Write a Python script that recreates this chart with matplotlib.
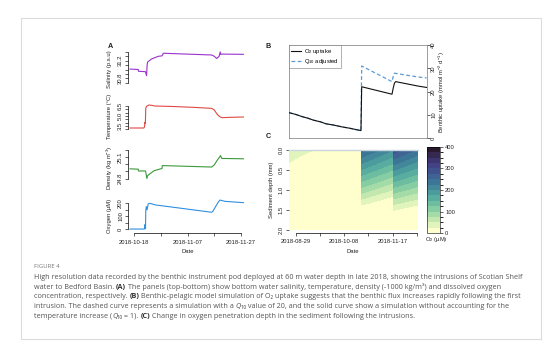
import numpy as np
import pandas as pd
import matplotlib
matplotlib.use("Agg")
import matplotlib.pyplot as plt
import matplotlib.dates as mdates
from matplotlib.colors import LinearSegmentedColormap, ListedColormap, BoundaryNorm
from matplotlib.patches import Rectangle
from matplotlib.lines import Line2D
from matplotlib.font_manager import FontProperties

# ---------------- data ----------------
A_BASE = "2018-10-18"   # day offsets in panel A are relative to this date
sal_days = [-1.6, 1.5, 1.55, 4.2, 4.4, 4.6, 4.8, 5.0, 6.5, 9.0, 10.4, 10.9, 15, 22, 29.0, 30.0, 30.9, 31.8, 32.2, 32.4, 32.8, 40.9]
sal_vals = [31.01, 31.00, 30.96, 30.95, 30.90, 30.86, 31.10, 31.17, 31.24, 31.30, 31.31, 31.37, 31.36, 31.345, 31.33, 31.30, 31.25, 31.30, 31.40, 31.34, 31.35, 31.345]

tmp_days = [-1.6, 3.6, 3.8, 4.0, 4.15, 4.3, 4.6, 5.5, 6.5, 7.75, 15, 22, 29.0, 30.0, 31.0, 32.0, 32.8, 36, 40.9]
tmp_vals = [3.2, 3.2, 3.35, 4.05, 3.9, 6.2, 6.45, 6.65, 6.6, 6.5, 6.42, 6.3, 6.15, 5.9, 5.3, 4.9, 4.75, 4.8, 4.85]

den_days = [-1.6, 1.5, 1.55, 4.2, 4.5, 4.7, 5.0, 6.0, 7.5, 10.4, 10.5, 20, 29.0, 30.0, 31.0, 32.0, 32.3, 32.8, 40.9]
den_vals = [24.935, 24.93, 24.905, 24.905, 24.85, 24.80, 24.84, 24.87, 24.91, 24.94, 24.98, 24.97, 24.96, 24.99, 25.05, 25.10, 25.12, 25.08, 25.075]

oxy_days = [-1.6, 3.75, 3.9, 4.05, 4.2, 4.3, 4.5, 4.8, 5.2, 5.9, 7.75, 29.0, 29.5, 30.5, 31.5, 32.1, 34, 40.9]
oxy_vals = [2, 2, 15, 38, 5, 140, 175, 150, 195, 200, 188, 131, 140, 175, 210, 225, 215, 205]

B_BASE = "2018-08-29"   # day offsets in panels B and C are relative to this date
up_days = [-5.8, 0, 5, 10, 14.3, 20, 25, 30.9, 38, 44.7, 50, 53.8, 54.4, 79.5, 80.5, 81.5, 82.5, 101, 108.2]
up_vals = [11.0, 10.2, 9.3, 8.6, 7.8, 7.1, 6.2, 5.7, 4.9, 4.3, 3.7, 3.3, 22.1, 18.9, 21.5, 23.6, 24.3, 22.4, 21.8]
q10_days = [-5.8, 0, 5, 10, 14.3, 20, 25, 30.9, 38, 44.7, 50, 53.8, 54.4, 79.5, 80.5, 81.5, 101, 108.2]
q10_vals = [11.0, 10.2, 9.3, 8.6, 7.8, 7.1, 6.2, 5.7, 4.9, 4.3, 3.7, 3.3, 31.0, 24.3, 26.5, 27.9, 26.3, 25.9]

c_days = [-6.2, 3.0, 14.0, 54.3, 54.5, 80.5, 80.6, 101.0]
c_depth = [0, 0.25, 0.5, 0.75, 1.0, 1.25, 1.5, 1.75, 2.0]
c_o2 = [  # one O2 profile (uM) per time in c_days, top to bottom
    [45, 30, 10, 0, 0, 0, 0, 0, 0],
    [36, 18, 2, 0, 0, 0, 0, 0, 0],
    [25.5, 8, 0, 0, 0, 0, 0, 0, 0],
    [15, 3, 0, 0, 0, 0, 0, 0, 0],
    [255, 213, 172, 130, 88, 46, 4, 0, 0],
    [200, 162, 124, 86, 48, 10, 0, 0, 0],
    [290, 246, 202, 158, 114, 70, 26, 0, 0],
    [245, 205, 165, 125, 86, 45, 4, 0, 0],
]
c_levels = list(range(0, 425, 25))

a_tick_dates = ["2018-10-18", "2018-10-28", "2018-11-07", "2018-11-17", "2018-11-27"]
a_tick_labels = ["2018-10-18", "", "2018-11-07", "", "2018-11-27"]
c_tick_dates = ["2018-08-29", "2018-09-18", "2018-10-08", "2018-10-28", "2018-11-17", "2018-12-07"]
c_tick_labels = ["2018-08-29", "", "2018-10-08", "", "2018-11-17", ""]

# caption: each line is a list of (text, style) with style n=normal, b=bold, i=italic
caption_segments = [
    [("High resolution data recorded by the benthic instrument pod deployed at 60 m water depth in late 2018, showing the intrusions of Scotian Shelf", "n")],
    [("water to Bedford Basin. ", "n"), ("(A)", "b"),
     (" The panels (top-bottom) show bottom water salinity, temperature, density (-1000 kg/m\u00b3) and dissolved oxygen", "n")],
    [("concentration, respectively. ", "n"), ("(B)", "b"),
     (" Benthic-pelagic model simulation of O\u2082 uptake suggests that the benthic flux increases rapidly following the first", "n")],
    [("intrusion. The dashed curve represents a simulation with a ", "n"), ("Q", "i"),
     ("\u2081\u2080 value of 20, and the solid curve show a simulation without accounting for the", "n")],
    [("temperature increase (", "n"), ("Q", "i"), ("\u2081\u2080 = 1). ", "n"), ("(C)", "b"),
     (" Change in oxygen penetration depth in the sediment following the intrusions.", "n")],
]

# ---------------- style ----------------
plt.rcParams["font.family"] = ["Liberation Sans", "DejaVu Sans"]
plt.rcParams["mathtext.fontset"] = "custom"
plt.rcParams["mathtext.rm"] = "Liberation Sans"
plt.rcParams["mathtext.it"] = "Liberation Sans:italic"
plt.rcParams["mathtext.bf"] = "Liberation Sans:bold"

W, H, DPI = 554, 342, 100
FS = 4.2
TXT = "#222222"
LW_AX = 0.5
TICKLEN = 2.2

fig = plt.figure(figsize=(W / DPI, H / DPI), dpi=DPI)
fig.patch.set_facecolor("white")


def px_axes(l, t, r, b):
    return fig.add_axes([l / W, 1 - b / H, (r - l) / W, (b - t) / H])


def ftext(x, y, s, **kw):
    kw.setdefault("color", TXT)
    return fig.text(x / W, 1 - y / H, s, **kw)


def dnum(base, days):
    return mdates.date2num(pd.Timestamp(base)) + np.asarray(days, float)


def dnums(dates):
    return [mdates.date2num(pd.Timestamp(d)) for d in dates]


def set_ylim_px(ax, v1, p1, v2, p2, top, bottom):
    k = (v1 - v2) / (p2 - p1)
    ax.set_ylim(v1 - (bottom - p1) * k, v1 + (p1 - top) * k)


# card border
fig.patches.append(Rectangle((21 / W, 1 - 339 / H), (541 - 21) / W, (339 - 18) / H,
                             transform=fig.transFigure, fill=False,
                             edgecolor="#dcdcdc", lw=0.8))

# ---------------- panel A ----------------
A_L, A_R = 128.3, 248.0
A_X0, A_PPD = 134.3, 2.667
a_xlim = dnum(A_BASE, [(A_L - A_X0) / A_PPD, (A_R - A_X0) / A_PPD])

panels = [
    (sal_days, sal_vals, "#9a32cd", 49, 86, (31.2, 60.7, 30.8, 78.3),
     [30.7, 30.8, 30.9, 31.0, 31.1, 31.2, 31.3, 31.4], ["", "30.8", "", "", "", "31.2", "", ""],
     "Salinity (p.s.u)"),
    (tmp_days, tmp_vals, "#e04a45", 102, 133, (6.5, 106, 3.5, 126),
     [3.0, 3.5, 4.0, 4.5, 5.0, 5.5, 6.0, 6.5], ["", "3.5", "", "", "5.0", "", "", "6.5"],
     "Temperature (°C)"),
    (den_days, den_vals, "#3a9a3a", 146, 183, (25.1, 157, 24.8, 178.5),
     [24.8, 24.9, 25.0, 25.1, 25.2], ["24.8", "", "", "25.1", ""],
     r"Density (kg m$^{-3}$)"),
    (oxy_days, oxy_vals, "#2f8fe0", 196, 232.7, (200, 203.3, 0, 229.3),
     [0, 50, 100, 150, 200], ["0", "", "100", "", "200"],
     "Oxygen (µM)"),
]

for i, (d, v, col, top, bot, mp, yt, yl, lab) in enumerate(panels):
    ax = px_axes(A_L, top, A_R, bot)
    ax.set_facecolor("none")
    ax.plot(dnum(A_BASE, d), v, color=col, lw=0.8)
    ax.set_xlim(*a_xlim)
    set_ylim_px(ax, *mp, top, bot)
    for s in ["top", "right"]:
        ax.spines[s].set_visible(False)
    ax.spines["left"].set_bounds(yt[0], yt[-1])
    ax.spines["left"].set_linewidth(LW_AX)
    ax.set_yticks(yt)
    ax.set_yticklabels(yl, rotation=90, va="center")
    ax.tick_params(axis="y", labelsize=FS, length=TICKLEN, width=LW_AX, pad=1.5, colors=TXT)
    if i < 3:
        ax.spines["bottom"].set_visible(False)
        ax.set_xticks([])
    else:
        td = dnums(a_tick_dates)
        ax.spines["bottom"].set_bounds(td[0], td[-1])
        ax.spines["bottom"].set_linewidth(LW_AX)
        ax.set_xticks(td)
        ax.set_xticklabels(a_tick_labels)
        ax.tick_params(axis="x", labelsize=FS, length=TICKLEN, width=LW_AX, pad=3.0, colors=TXT)
    ftext(110, (mp[1] + mp[3]) / 2, lab, fontsize=FS, rotation=90, ha="center", va="center")

ftext(187.7, 251.5, "Date", fontsize=FS, ha="center", va="center")
ftext(110.6, 47, "A", fontsize=5.2, fontweight="bold", ha="center", va="center")

# ---------------- panel B ----------------
B_L, B_R, B_T, B_B = 288.7, 426.7, 45, 138.3
B_X0, B_PPD = 296.0, 1.2075
axb = px_axes(B_L, B_T, B_R, B_B)
axb.plot(dnum(B_BASE, q10_days), q10_vals, color="#5b9bd5", lw=0.9, ls=(0, (3, 2)), zorder=2)
axb.plot(dnum(B_BASE, up_days), up_vals, color="#111111", lw=0.8, zorder=3)
axb.set_xlim(*dnum(B_BASE, [(B_L - B_X0) / B_PPD, (B_R - B_X0) / B_PPD]))
axb.set_ylim(0, 40)
axb.set_xticks([])
axb.yaxis.tick_right()
axb.set_yticks([0, 10, 20, 30, 40])
axb.set_yticklabels(["0", "10", "20", "30", "40"], rotation=90, va="center")
axb.tick_params(axis="y", labelsize=FS, length=TICKLEN, width=LW_AX, pad=1.0, colors=TXT)
for s in axb.spines.values():
    s.set_linewidth(LW_AX)
    s.set_color("#777777")
handles = [Line2D([], [], color="#111111", lw=0.8),
           Line2D([], [], color="#5b9bd5", lw=0.9, ls=(0, (3, 2)))]
leg = axb.legend(handles, [r"O$_2$ uptake", r"Q$_{10}$ adjusted"], loc="upper left",
                 bbox_to_anchor=(0, 1), borderaxespad=0, fontsize=FS, frameon=True,
                 fancybox=False, edgecolor="#777777", handlelength=1.8, handletextpad=0.5,
                 borderpad=0.35, labelspacing=0.2)
leg.get_frame().set_linewidth(0.5)
ftext(441.5, 91.7, r"Benthic uptake (mmol m$^{-2}$ d$^{-1}$)", fontsize=FS, rotation=90,
      ha="center", va="center")
ftext(268.6, 47, "B", fontsize=5.2, fontweight="bold", ha="center", va="center")

# ---------------- panel C ----------------
C_L, C_R, C_T, C_B = 288.7, 417.7, 150, 230
axc = px_axes(C_L, C_T, C_R, C_B)
deep = LinearSegmentedColormap.from_list("deep_like", [
    "#FEFFCD", "#D2EEB4", "#A5DBA6", "#77C6A2", "#58ADA0", "#46929C",
    "#3D7597", "#3E5A92", "#424286", "#3B2F64", "#281A2C"])
nb = len(c_levels) - 1
band_cmap = ListedColormap([deep(k / (nb - 1)) for k in range(nb)])
band_norm = BoundaryNorm(c_levels, nb)
Z = np.array(c_o2, float).T
cs = axc.contourf(dnum(B_BASE, c_days), c_depth, Z, levels=c_levels, cmap=band_cmap,
                  norm=band_norm)
axc.set_xlim(*dnum(B_BASE, [(C_L - B_X0) / B_PPD, (C_R - B_X0) / B_PPD]))
axc.set_ylim(2.0, 0.0)
axc.spines["right"].set_visible(False)
axc.spines["left"].set_visible(False)
axc.spines["top"].set_color("#c8d6de")
axc.spines["top"].set_linewidth(1.0)
tdc = dnums(c_tick_dates)
axc.spines["bottom"].set_position(("outward", 2.5))
axc.spines["bottom"].set_bounds(tdc[0], tdc[-1])
axc.spines["bottom"].set_linewidth(LW_AX)
axc.set_xticks(tdc)
axc.set_xticklabels(c_tick_labels)
axc.tick_params(axis="x", labelsize=FS, length=TICKLEN, width=LW_AX, pad=2.0, colors=TXT)
axc.set_yticks([0.0, 0.5, 1.0, 1.5, 2.0])
axc.set_yticklabels(["0.0", "0.5", "1.0", "1.5", "2.0"], rotation=90, va="center")
axc.tick_params(axis="y", labelsize=FS, length=TICKLEN, width=LW_AX, pad=1.5, colors=TXT)
ftext(271.7, 190, "Sediment depth (mm)", fontsize=FS, rotation=90, ha="center", va="center")
ftext(353, 251.5, "Date", fontsize=FS, ha="center", va="center")
ftext(268, 136.7, "C", fontsize=5.2, fontweight="bold", ha="center", va="center")

cax = px_axes(426.7, 146.7, 440, 233.3)
cb = fig.colorbar(cs, cax=cax, ticks=[0, 100, 200, 300, 400])
cb.outline.set_linewidth(0.4)
cb.ax.tick_params(labelsize=FS, length=TICKLEN, width=LW_AX, pad=1.5, colors=TXT)
ftext(436.7, 240, r"O$_2$ (µM)", fontsize=FS, ha="center", va="center")

# ---------------- caption ----------------
CAP_FAM = ["Open Sans", "DejaVu Sans"]
ftext(34, 266.5, "FIGURE 4", fontsize=4.3, color="#777777", ha="left", va="center",
      family=CAP_FAM)
fig.canvas.draw()
rend = fig.canvas.get_renderer()
STY = {"n": dict(weight="normal", style="normal"),
       "b": dict(weight="bold", style="normal"),
       "i": dict(weight="normal", style="italic")}


def seg_width(s, size, st):
    fp = FontProperties(family=CAP_FAM, size=size, **STY[st])
    w1 = rend.get_text_width_height_descent("|" + s + "|", fp, ismath=False)[0]
    w0 = rend.get_text_width_height_descent("||", fp, ismath=False)[0]
    return w1 - w0


base_fs = 5.0
line1_w = sum(seg_width(s, base_fs, st) for s, st in caption_segments[0])
cap_fs = base_fs * 498.0 / line1_w
cap_base = [279.0, 288.7, 298.4, 308.1, 317.8]
for yb, segs in zip(cap_base, caption_segments):
    x = 34.0
    for s, st in segs:
        ftext(x, yb, s, fontsize=cap_fs, color=("#333333" if st == "b" else "#555555"),
              ha="left", va="baseline", family=CAP_FAM, **STY[st])
        x += seg_width(s, cap_fs, st)

fig.savefig("out.png", dpi=DPI)
